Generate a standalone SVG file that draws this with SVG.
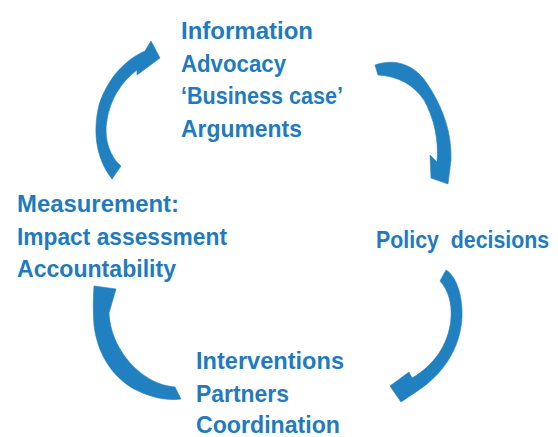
<svg xmlns="http://www.w3.org/2000/svg" width="558" height="437" viewBox="0 0 558 437">
  <style>
    .lbl { font-family: "Liberation Sans", Arial, sans-serif; font-weight: bold; font-size: 24px; fill: #1F7BBD; }
    .arc { fill: #2180C0; stroke: #2180C0; stroke-width: 0.6; stroke-linejoin: round; }
  </style>
  <rect width="558" height="437" fill="#ffffff"/>

  <!-- curved cycle arrows, each a filled tapered band with its head -->
  <g id="connectors">
    <path class="arc" d="M112,179 L121,166 C108,155 104,135 107,120 C110,100 121,82 137,70 L137,75 L160,58 L151,41 L145,51 C124,60 107,80 99,105 C93,130 95,157 112,179 Z"/>
    <path class="arc" d="M375,65 C395,58 415,64 428,85 C441,105 452,130 451,160 L448,184 L431,178 L430,155 L437,162 C439,140 434,118 424,100 C414,85 398,76 378,75 Z"/>
    <path class="arc" d="M440,281 L446,270 C456,276 463,295 462,318 C460,348 444,374 416,392 L401,402 L390,386 L409,372 L412,378 C433,366 449,345 451,318 C452,302 448,290 440,281 Z"/>
    <path class="arc" d="M94,286 L116,289 L109,313 C110,335 122,360 145,376 C155,383 165,386 175,387 L181,399 C165,401 150,397 134,389 C111,376 97,352 94,325 C93,312 93,300 94,286 Z"/>
  </g>

  <g id="node-information">
    <text class="lbl" x="181" y="39" textLength="132" lengthAdjust="spacingAndGlyphs">Information</text>
    <text class="lbl" x="181" y="71.5" textLength="105" lengthAdjust="spacingAndGlyphs">Advocacy</text>
    <text class="lbl" x="181" y="104" textLength="162" lengthAdjust="spacingAndGlyphs">‘Business case’</text>
    <text class="lbl" x="181" y="136.5" textLength="121" lengthAdjust="spacingAndGlyphs">Arguments</text>
  </g>

  <!-- condensed horizontally so the label stays inside the right edge -->
  <g id="node-policy" transform="translate(376,248) scale(0.89,1)">
    <text class="lbl" x="0" y="0" xml:space="preserve">Policy  decisions</text>
  </g>

  <g id="node-interventions">
    <text class="lbl" x="196" y="369" textLength="148" lengthAdjust="spacingAndGlyphs">Interventions</text>
    <text class="lbl" x="196" y="401.5" textLength="93" lengthAdjust="spacingAndGlyphs">Partners</text>
    <text class="lbl" x="196" y="433" textLength="144" lengthAdjust="spacingAndGlyphs">Coordination</text>
  </g>

  <g id="node-measurement">
    <text class="lbl" x="17" y="212" textLength="162" lengthAdjust="spacingAndGlyphs">Measurement:</text>
    <text class="lbl" x="17" y="244.5" textLength="210" lengthAdjust="spacingAndGlyphs">Impact assessment</text>
    <text class="lbl" x="17" y="277" textLength="159" lengthAdjust="spacingAndGlyphs">Accountability</text>
  </g>
</svg>
